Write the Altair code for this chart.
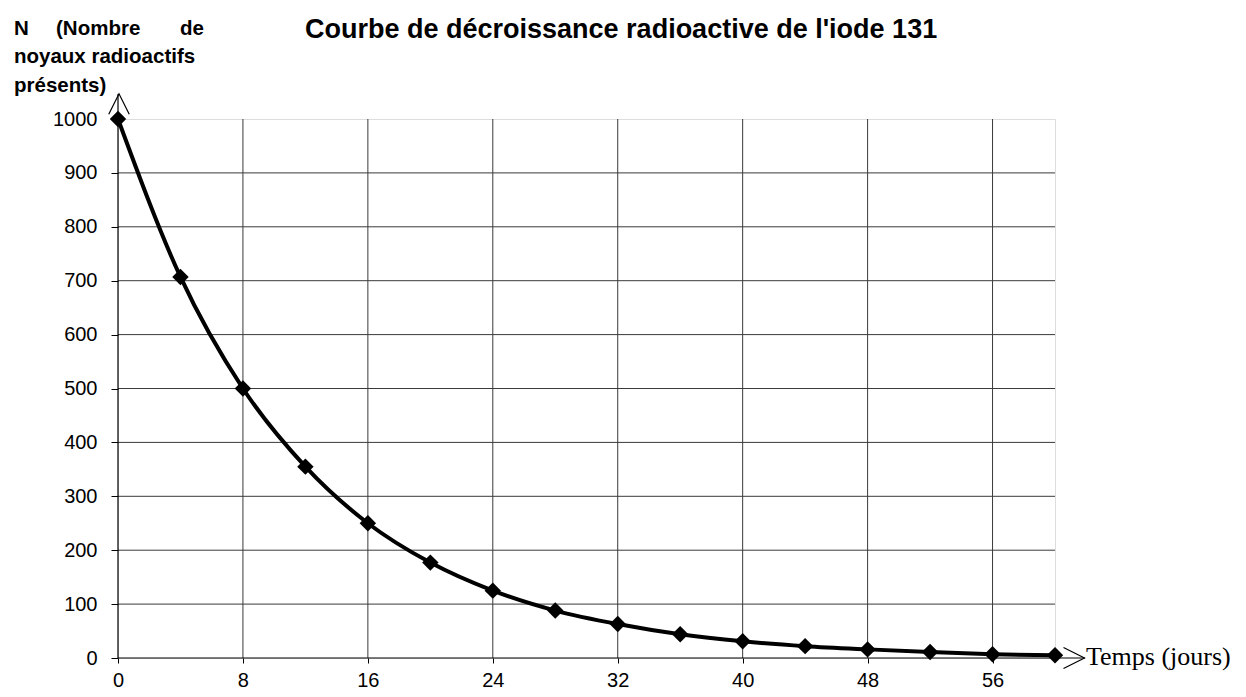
import altair as alt
import pandas as pd

# ---- data ----
days = [0, 4, 8, 12, 16, 20, 24, 28, 32, 36, 40, 44, 48, 52, 56, 60]
nuclei = [1000, 707, 500, 355, 250, 177, 125, 88, 63, 44, 31, 22, 16, 11, 7, 5]
x_ticks = [0, 8, 16, 24, 32, 40, 48, 56]
y_ticks = [0, 100, 200, 300, 400, 500, 600, 700, 800, 900, 1000]
h_grid = [100, 200, 300, 400, 500, 600, 700, 800, 900]
v_grid = [8, 16, 24, 32, 40, 48, 56]

title_text = "Courbe de décroissance radioactive de l'iode 131"
ytitle_1a = "N"
ytitle_1b = "(Nombre"
ytitle_1c = "de"
ytitle_2 = "noyaux radioactifs"
ytitle_3 = "présents)"
xtitle = "Temps (jours)"

W, H = 937, 539

df = pd.DataFrame({"t": days, "n": nuclei})
xs = alt.Scale(domain=[0, 60], nice=False, zero=True)
ys = alt.Scale(domain=[0, 1000], nice=False, zero=True)

X = alt.X("t:Q", scale=xs,
          axis=alt.Axis(values=x_ticks, title=None, grid=False, domain=False,
                        tickSize=5, tickColor="#000", labelPadding=7,
                        labelFont="Liberation Sans", labelFontSize=20,
                        labelColor="#000", labelFlush=False, format="d"))
Y = alt.Y("n:Q", scale=ys,
          axis=alt.Axis(values=y_ticks, title=None, grid=False, domain=False,
                        tickSize=7, tickColor="#000", labelPadding=14,
                        labelFont="Liberation Sans", labelFontSize=20,
                        labelColor="#000", labelFlush=False, format="d"))

base = alt.Chart(df)

hgrid = alt.Chart(pd.DataFrame({"g": h_grid})).mark_rule(
    color="#3a3a3a", strokeWidth=1).encode(
    y=alt.Y("g:Q", scale=ys), x=alt.value(0), x2=alt.value(W))
vgrid = alt.Chart(pd.DataFrame({"g": v_grid})).mark_rule(
    color="#3a3a3a", strokeWidth=1).encode(
    x=alt.X("g:Q", scale=xs), y=alt.value(0), y2=alt.value(H))

yaxis_line = alt.Chart(pd.DataFrame({"a": [0]})).mark_rule(
    color="#000", strokeWidth=1.2).encode(
    x=alt.value(0), y=alt.value(-25), y2=alt.value(H))
xaxis_line = alt.Chart(pd.DataFrame({"a": [0]})).mark_rule(
    color="#000", strokeWidth=1.2).encode(
    y=alt.value(H), x=alt.value(0), x2=alt.value(967))

yarrow = alt.Chart(pd.DataFrame({"a": [0]})).mark_point(
    shape="M-1,1L0,-1L1,1", filled=False, color="#000", strokeWidth=1.2,
    size=420, opacity=1).encode(x=alt.value(1), y=alt.value(-15))
xarrow = alt.Chart(pd.DataFrame({"a": [0]})).mark_point(
    shape="M-1,-1L1,0L-1,1", filled=False, color="#000", strokeWidth=1.2,
    size=440, opacity=1).encode(x=alt.value(956), y=alt.value(H))

curve = base.mark_line(interpolate="monotone", color="#000", strokeWidth=4).encode(x=X, y=Y)
pts = base.mark_point(shape="diamond", filled=True, color="#000", size=270,
                      opacity=1).encode(x=alt.X("t:Q", scale=xs), y=alt.Y("n:Q", scale=ys))


def label(txt, x, y, size, bold=True, font="Liberation Sans", align="left"):
    return alt.Chart(pd.DataFrame({"s": [txt]})).mark_text(
        align=align, baseline="alphabetic", font=font, fontSize=size,
        fontWeight="bold" if bold else "normal", color="#000").encode(
        text="s:N", x=alt.value(x), y=alt.value(y))


texts = [
    label(title_text, 187, -81, 27),
    label(ytitle_1a, -104, -84, 20.5),
    label(ytitle_1b, -62, -84, 20.5),
    label(ytitle_1c, 86, -84, 20.5, align="right"),
    label(ytitle_2, -104, -56, 20.5),
    label(ytitle_3, -104, -27, 20.5),
    label(xtitle, 968, 546, 26, bold=False, font="Liberation Serif"),
]

chart = alt.layer(
    hgrid, vgrid, curve, pts, yaxis_line, xaxis_line, yarrow, xarrow, *texts
).properties(
    width=W, height=H,
    autosize=alt.AutoSizeParams(type="none"),
    padding={"left": 110, "top": 111, "right": 183, "bottom": 31},
).configure_view(stroke=None).configure(background="white")

chart.save("out.html", embed_options={"renderer": "svg", "actions": False})
